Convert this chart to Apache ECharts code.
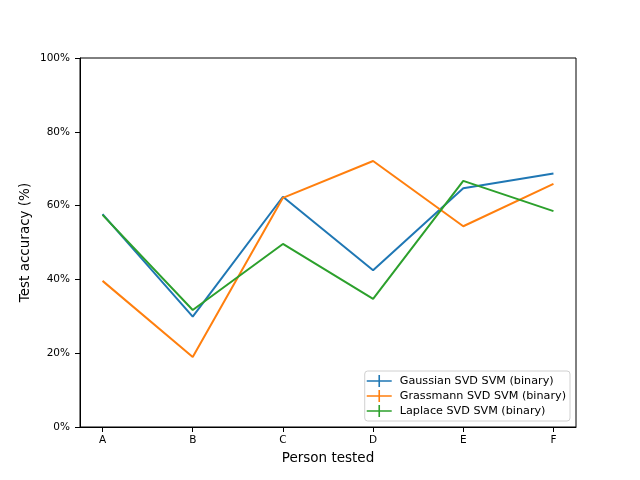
<!DOCTYPE html>
<html>
<head>
<meta charset="utf-8">
<script src="https://cdn.jsdelivr.net/npm/echarts@6/dist/echarts.min.js"></script>
<style>html,body{margin:0;padding:0;background:#fff}#c{width:640px;height:480px}</style>
</head>
<body>
<div id="c"></div>
<script>
var categories = ['A', 'B', 'C', 'D', 'E', 'F'];
var gaussian = [57.7, 29.9, 62.4, 42.5, 64.7, 68.7];
var grassmann = [39.6, 19.0, 62.1, 72.1, 54.4, 65.9];
var laplace = [57.5, 31.7, 49.6, 34.7, 66.7, 58.5];
var yTicks = [0, 20, 40, 60, 80, 100];
var seriesNames = ['Gaussian SVD SVM (binary)', 'Grassmann SVD SVM (binary)', 'Laplace SVD SVM (binary)'];
var colors = ['#1f77b4', '#ff7f0e', '#2ca02c'];

function pts(arr) { return arr.map(function (v, i) { return [i, v]; }); }
var idx = categories.map(function (c, i) { return i; });
var font = 'DejaVu Sans';
var icon = 'path://M0,5.2H25V6.8H0Z M11.7,0H13.3V12H11.7Z';

var chart = echarts.init(document.getElementById('c'), null, {renderer: 'canvas'});
chart.setOption({
  animation: false,
  backgroundColor: '#fff',
  grid: {left: 80, right: 64, top: 58, bottom: 53, show: true, borderColor: '#000', borderWidth: 1, backgroundColor: 'transparent'},
  xAxis: {
    type: 'value', min: -0.25, max: 5.25,
    name: 'Person tested', nameLocation: 'middle', nameGap: 24,
    nameTextStyle: {fontFamily: font, fontSize: 13.5, color: '#000'},
    axisLine: {show: true, onZero: false, lineStyle: {color: '#000', width: 1}},
    axisTick: {show: true, customValues: idx, length: 5, lineStyle: {color: '#000'}},
    axisLabel: {customValues: idx, fontFamily: font, fontSize: 10.5, color: '#000', margin: 8,
      formatter: function (v) { return categories[Math.round(v)]; }},
    splitLine: {show: false}
  },
  yAxis: {
    type: 'value', min: 0, max: 100, interval: 20,
    name: 'Test accuracy (%)', nameLocation: 'middle', nameGap: 48,
    nameMoveOverlap: false,
    nameTextStyle: {fontFamily: font, fontSize: 13.5, color: '#000'},
    axisLine: {show: true, onZero: false, lineStyle: {color: '#000', width: 1}},
    axisTick: {show: true, customValues: yTicks, length: 5, lineStyle: {color: '#000'}},
    axisLabel: {fontFamily: font, fontSize: 10.5, color: '#000', margin: 10,
      customValues: yTicks,
      formatter: function (v) { return v + '%'; }},
    splitLine: {show: false}
  },
  legend: {
    orient: 'vertical', right: 70, bottom: 59,
    data: seriesNames.map(function (n) { return {name: n, icon: icon}; }),
    itemWidth: 25, itemHeight: 12, itemGap: 3,
    padding: [4, 4, 4, 2],
    borderColor: '#d0d0d0', borderWidth: 1, borderRadius: 3,
    backgroundColor: 'rgba(255,255,255,0.8)',
    textStyle: {fontFamily: font, fontSize: 11.2, color: '#000', padding: [0, 0, 0, 3]}
  },
  series: [gaussian, grassmann, laplace].map(function (arr, i) {
    return {
      name: seriesNames[i], type: 'line', data: pts(arr),
      showSymbol: false, symbol: 'none',
      lineStyle: {color: colors[i], width: 2},
      itemStyle: {color: colors[i]}
    };
  })
});
</script>
</body>
</html>
